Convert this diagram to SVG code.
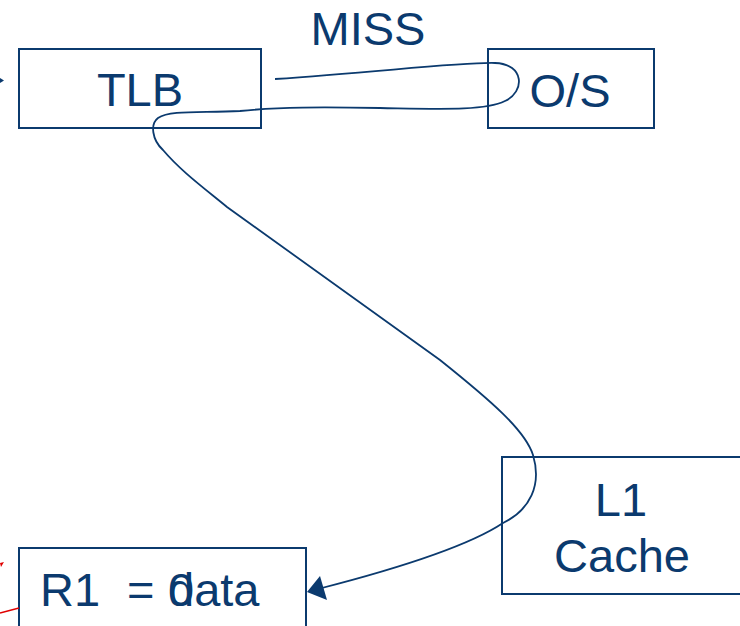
<svg xmlns="http://www.w3.org/2000/svg" width="740" height="626" viewBox="0 0 740 626">
<style>
.box{fill:none;stroke:#0b3a6e;stroke-width:2}
.lbl{font-family:"Liberation Sans",Arial,sans-serif;font-size:47px;fill:#0b3a6e}
.mid{text-anchor:middle}
.conn{fill:none;stroke:#0b3a6e;stroke-width:1.8}
.red{fill:none;stroke:#e00000;stroke-width:1.6}
</style>
<rect width="740" height="626" fill="#ffffff"/>
<g id="tlb"><rect class="box" x="19" y="49" width="242" height="79"/><text class="lbl mid" x="140" y="106">TLB</text></g>
<g id="os"><rect class="box" x="488" y="49" width="166" height="79"/><text class="lbl mid" x="570" y="107">O/S</text></g>
<g id="l1"><rect class="box" x="502" y="457" width="250" height="137"/><text class="lbl mid" x="621" y="516">L1</text><text class="lbl mid" x="622" y="572">Cache</text></g>
<g id="r1"><rect class="box" x="19" y="548" width="287" height="90"/><text class="lbl" x="40" y="606">R1</text><text class="lbl" x="127" y="606">=</text><text class="lbl" x="168" y="606">0</text><text class="lbl" x="168" y="606">data</text></g>
<g id="miss"><text class="lbl mid" x="368" y="45">MISS</text></g>
<g id="connectors">
<path class="conn" d="M275 79 C380 72 460 62 495 63 C525 64 525 92 505 101 C485 111 440 109 380 108 C320 107 280 107 240 111 C200 113 170 110 158 118 C150 124 152 140 163 150 C180 170 200 185 227 207 L440 360 C490 400 525 430 533 455 C542 485 530 510 503 523 C470 545 400 568 318 589"/>
<polygon points="307,592 320,576 327,600" fill="#0b3a6e"/>
<polygon points="0,78 4,80.5 0,83" fill="#0b3a6e"/>
<line class="red" x1="0" y1="613" x2="19" y2="608"/>
<polygon points="0,563 4,562 1,567" fill="#e00000"/>
</g>
</svg>
